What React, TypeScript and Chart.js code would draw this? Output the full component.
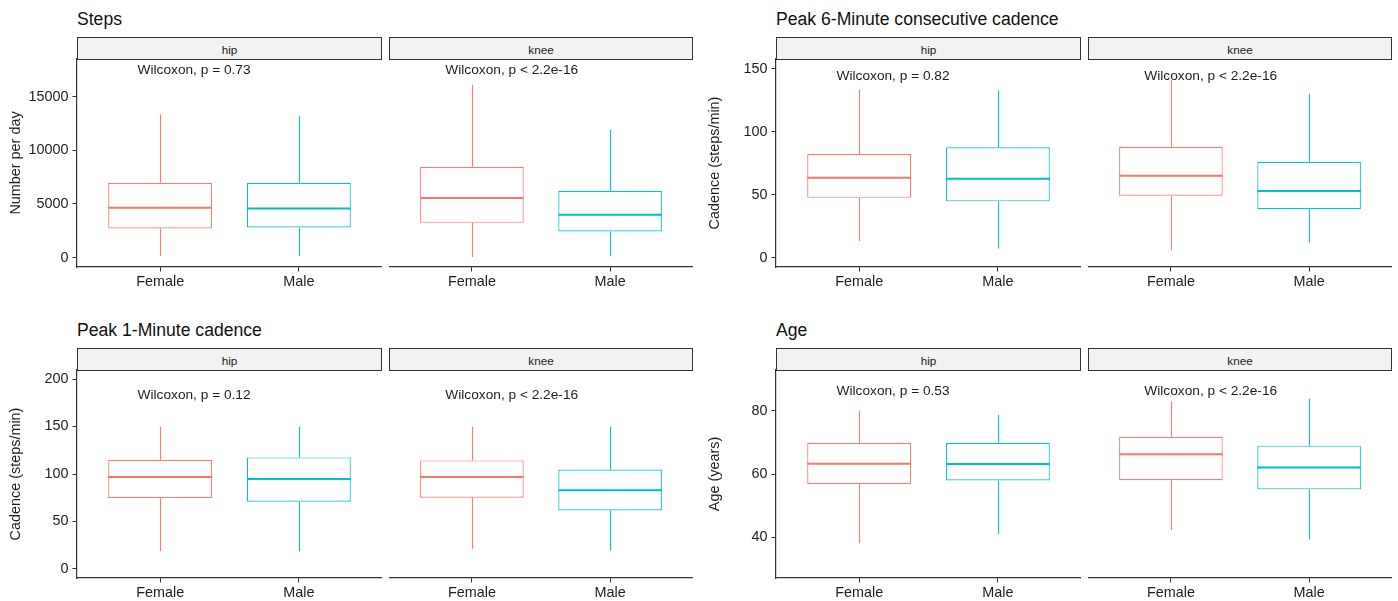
import React, { useEffect, useRef } from "react";
import { Chart, registerables } from "chart.js";

Chart.register(...registerables);

// ---------- data ----------
const categories = ["Female", "Male"];
const facets = ["hip", "knee"];
const panelTitles = ["Steps", "Peak 6-Minute consecutive cadence", "Peak 1-Minute cadence", "Age"];
const yTitles = ["Number per day", "Cadence (steps/min)", "Cadence (steps/min)", "Age (years)"];

// each row: [min, q1, median, q3, max] for Female, Male
const stepsHip = [[150, 2710, 4636, 6972, 13364], [150, 2804, 4580, 6972, 13178]];
const stepsKnee = [[56, 3234, 5542, 8467, 16103], [121, 2430, 3981, 6224, 11897]];
const cad6Hip = [[13.2, 47.4, 63.4, 82.2, 133.2], [7.2, 44.6, 62.6, 87.6, 132.6]];
const cad6Knee = [[5.8, 49.0, 65.0, 88.0, 141.1], [11.9, 38.4, 52.8, 76.1, 130.0]];
const cad1Hip = [[18.6, 74.7, 96.9, 114.9, 149.8], [18.6, 70.9, 94.8, 117.5, 149.8]];
const cad1Knee = [[21.2, 75.1, 96.9, 114.3, 149.8], [19.4, 61.7, 82.9, 104.8, 149.8]];
const ageHip = [[38.2, 56.9, 63.3, 69.9, 80.0], [41.2, 58.0, 63.2, 69.9, 78.8]];
const ageKnee = [[42.4, 58.1, 66.3, 71.8, 83.0], [39.4, 55.2, 62.1, 69.0, 83.8]];

const stepsTicks = [0, 5000, 10000, 15000];
const cad6Ticks = [0, 50, 100, 150];
const cad1Ticks = [0, 50, 100, 150, 200];
const ageTicks = [40, 60, 80];

const stepsRange = [-880, 18505];
const cad6Range = [-7.5, 157.6];
const cad1Range = [-9.5, 209.5];
const ageRange = [27.2, 92.9];

const stepsP = ["Wilcoxon, p = 0.73", "Wilcoxon, p < 2.2e-16"];
const cad6P = ["Wilcoxon, p = 0.82", "Wilcoxon, p < 2.2e-16"];
const cad1P = ["Wilcoxon, p = 0.12", "Wilcoxon, p < 2.2e-16"];
const ageP = ["Wilcoxon, p = 0.53", "Wilcoxon, p < 2.2e-16"];

const stepsLabelY = 17450;
const cad6LabelY = 143.6;
const cad1LabelY = 183.2;
const ageLabelY = 86.3;

// ---------- styling ----------
const FONT = "'Liberation Sans', Arial, Helvetica, sans-serif";
const lineColors = ["rgba(248,118,109,0.95)", "rgba(0,191,196,0.95)"];
const medianColors = ["#F8766D", "#00BFC4"];
const AXIS = "#333333";
const TEXT = "#1E1E1E";

type Stats = number[][];

interface FacetProps {
  stats: Stats;
  ticks: number[];
  range: number[];
  showY: boolean;
  yTitle: string;
  labelText: string;
  labelY: number;
  left: number;
  top: number;
  plotWidth: number;
}

const PAD_TOP = 15;
const PLOT_H = 208;
const XAXIS_H = 33;
const YAXIS_W = 77;

function Facet(p: FacetProps) {
  const ref = useRef<HTMLCanvasElement | null>(null);
  const width = (p.showY ? YAXIS_W : 0) + p.plotWidth;
  const height = PAD_TOP + PLOT_H + XAXIS_H;

  useEffect(() => {
    if (!ref.current) return;
    const stats = p.stats;
    const boxPlugin = {
      id: "boxWhisker",
      beforeDatasetsDraw(chart: any) {
        const ctx = chart.ctx;
        const xs = chart.scales.x;
        const ys = chart.scales.y;
        ctx.save();
        stats.forEach((s, i) => {
          const cx = Math.round(xs.getPixelForValue(i + 1)) + 0.5;
          ctx.strokeStyle = lineColors[i];
          ctx.lineWidth = 1.1;
          ctx.beginPath();
          ctx.moveTo(cx, ys.getPixelForValue(s[3]));
          ctx.lineTo(cx, ys.getPixelForValue(s[4]));
          ctx.moveTo(cx, ys.getPixelForValue(s[1]));
          ctx.lineTo(cx, ys.getPixelForValue(s[0]));
          ctx.stroke();
        });
        ctx.restore();
      },
      afterDatasetsDraw(chart: any) {
        const ctx = chart.ctx;
        const xs = chart.scales.x;
        const ys = chart.scales.y;
        const meta = chart.getDatasetMeta(0);
        ctx.save();
        stats.forEach((s, i) => {
          const bar = meta.data[i] as any;
          const cx = xs.getPixelForValue(i + 1);
          const half = bar.width / 2;
          const my = ys.getPixelForValue(s[2]);
          ctx.strokeStyle = medianColors[i];
          ctx.lineWidth = 2;
          ctx.beginPath();
          ctx.moveTo(cx - half, my);
          ctx.lineTo(cx + half, my);
          ctx.stroke();
        });
        ctx.font = `13.7px ${FONT}`;
        ctx.fillStyle = TEXT;
        ctx.textAlign = "left";
        ctx.textBaseline = "middle";
        const w = ctx.measureText(p.labelText).width;
        const lx = xs.getPixelForValue(1) - 0.2 * w;
        ctx.fillText(p.labelText, lx, ys.getPixelForValue(p.labelY));
        ctx.restore();
      },
    };

    const chart = new Chart(ref.current, {
      type: "bar",
      data: {
        datasets: [
          {
            data: stats.map((s, i) => ({ x: i + 1, y: [s[1], s[3]] })) as any,
            backgroundColor: "#ffffff",
            borderColor: lineColors,
            borderWidth: 1.2,
            borderSkipped: false,
            categoryPercentage: 0.75,
            barPercentage: 1,
          } as any,
        ],
      },
      options: {
        responsive: false,
        animation: false,
        devicePixelRatio: 1,
        layout: { padding: { top: PAD_TOP, left: 0, right: 0, bottom: 0 } },
        plugins: {
          legend: { display: false },
          tooltip: { enabled: false },
          title: { display: false },
        },
        scales: {
          x: {
            type: "linear",
            min: 0.4,
            max: 2.6,
            offset: false,
            afterBuildTicks: (scale: any) => {
              scale.ticks = categories.map((_, i) => ({ value: i + 1 }));
            },
            afterFit: (scale: any) => {
              scale.height = XAXIS_H;
            },
            ticks: {
              callback: (v: any) => categories[Math.round(Number(v)) - 1] ?? "",
              font: { family: FONT, size: 14.4 },
              color: TEXT,
              padding: 1.5,
              maxRotation: 0,
              autoSkip: false,
            },
            grid: {
              offset: false,
              drawOnChartArea: false,
              drawTicks: true,
              tickLength: 4.5,
              color: AXIS,
              lineWidth: 1,
            },
            border: { display: true, color: AXIS, width: 1.2 },
          },
          y: {
            type: "linear",
            display: p.showY,
            min: p.range[0],
            max: p.range[1],
            afterBuildTicks: (scale: any) => {
              scale.ticks = p.ticks.map((v) => ({ value: v }));
            },
            afterFit: (scale: any) => {
              if (p.showY) scale.width = YAXIS_W;
            },
            ticks: {
              callback: (v: any) => String(v),
              font: { family: FONT, size: 14.4 },
              color: TEXT,
              padding: 4,
              autoSkip: false,
            },
            grid: {
              drawOnChartArea: false,
              drawTicks: true,
              tickLength: 4.5,
              color: AXIS,
              lineWidth: 1,
            },
            border: { display: true, color: AXIS, width: 1.2 },
            title: {
              display: true,
              text: p.yTitle,
              font: { family: FONT, size: 14.4 },
              color: TEXT,
              padding: { top: 7.7, bottom: 0 },
            },
          },
        },
      },
      plugins: [boxPlugin],
    } as any);
    return () => chart.destroy();
  }, []);

  return (
    <canvas
      ref={ref}
      width={width}
      height={height}
      style={{
        position: "absolute",
        left: p.left - (p.showY ? YAXIS_W : 0),
        top: p.top - PAD_TOP,
        width,
        height,
      }}
    />
  );
}

interface PanelDef {
  title: string;
  yTitle: string;
  hip: Stats;
  knee: Stats;
  ticks: number[];
  range: number[];
  pTexts: string[];
  labelY: number;
  left: number;
  top: number;
}

const panels: PanelDef[] = [
  { title: panelTitles[0], yTitle: yTitles[0], hip: stepsHip, knee: stepsKnee, ticks: stepsTicks, range: stepsRange, pTexts: stepsP, labelY: stepsLabelY, left: 77, top: 59 },
  { title: panelTitles[1], yTitle: yTitles[1], hip: cad6Hip, knee: cad6Knee, ticks: cad6Ticks, range: cad6Range, pTexts: cad6P, labelY: cad6LabelY, left: 776, top: 59 },
  { title: panelTitles[2], yTitle: yTitles[2], hip: cad1Hip, knee: cad1Knee, ticks: cad1Ticks, range: cad1Range, pTexts: cad1P, labelY: cad1LabelY, left: 77, top: 370 },
  { title: panelTitles[3], yTitle: yTitles[3], hip: ageHip, knee: ageKnee, ticks: ageTicks, range: ageRange, pTexts: ageP, labelY: ageLabelY, left: 776, top: 370 },
];

const HIP_W = 305;
const KNEE_W = 304;
const GAP = 7;

function Strip({ left, top, width, text }: { left: number; top: number; width: number; text: string }) {
  return (
    <div
      style={{
        position: "absolute",
        left,
        top: top - 22,
        width,
        height: 23,
        boxSizing: "border-box",
        border: `1px solid ${AXIS}`,
        background: "#F2F2F2",
        display: "flex",
        alignItems: "center",
        justifyContent: "center",
        fontFamily: FONT,
        fontSize: 11.7,
        color: "#1A1A1A",
        paddingTop: 1,
      }}
    >
      {text}
    </div>
  );
}

export default function App() {
  return (
    <div
      style={{
        position: "absolute",
        left: 0,
        top: 0,
        width: 1398,
        height: 601,
        background: "#ffffff",
        overflow: "hidden",
      }}
    >
      {panels.map((pn, k) => {
        const kneeLeft = pn.left + HIP_W + GAP;
        return (
          <React.Fragment key={k}>
            <div
              style={{
                position: "absolute",
                left: pn.left,
                top: pn.top - 50,
                fontFamily: FONT,
                fontSize: 17.6,
                lineHeight: "20px",
                color: "#111",
                whiteSpace: "nowrap",
              }}
            >
              {pn.title}
            </div>
            <Strip left={pn.left} top={pn.top} width={HIP_W} text={facets[0]} />
            <Strip left={kneeLeft} top={pn.top} width={KNEE_W} text={facets[1]} />
            <Facet
              stats={pn.hip}
              ticks={pn.ticks}
              range={pn.range}
              showY={true}
              yTitle={pn.yTitle}
              labelText={pn.pTexts[0]}
              labelY={pn.labelY}
              left={pn.left}
              top={pn.top}
              plotWidth={HIP_W}
            />
            <Facet
              stats={pn.knee}
              ticks={pn.ticks}
              range={pn.range}
              showY={false}
              yTitle={pn.yTitle}
              labelText={pn.pTexts[1]}
              labelY={pn.labelY}
              left={kneeLeft}
              top={pn.top}
              plotWidth={KNEE_W}
            />
          </React.Fragment>
        );
      })}
    </div>
  );
}
